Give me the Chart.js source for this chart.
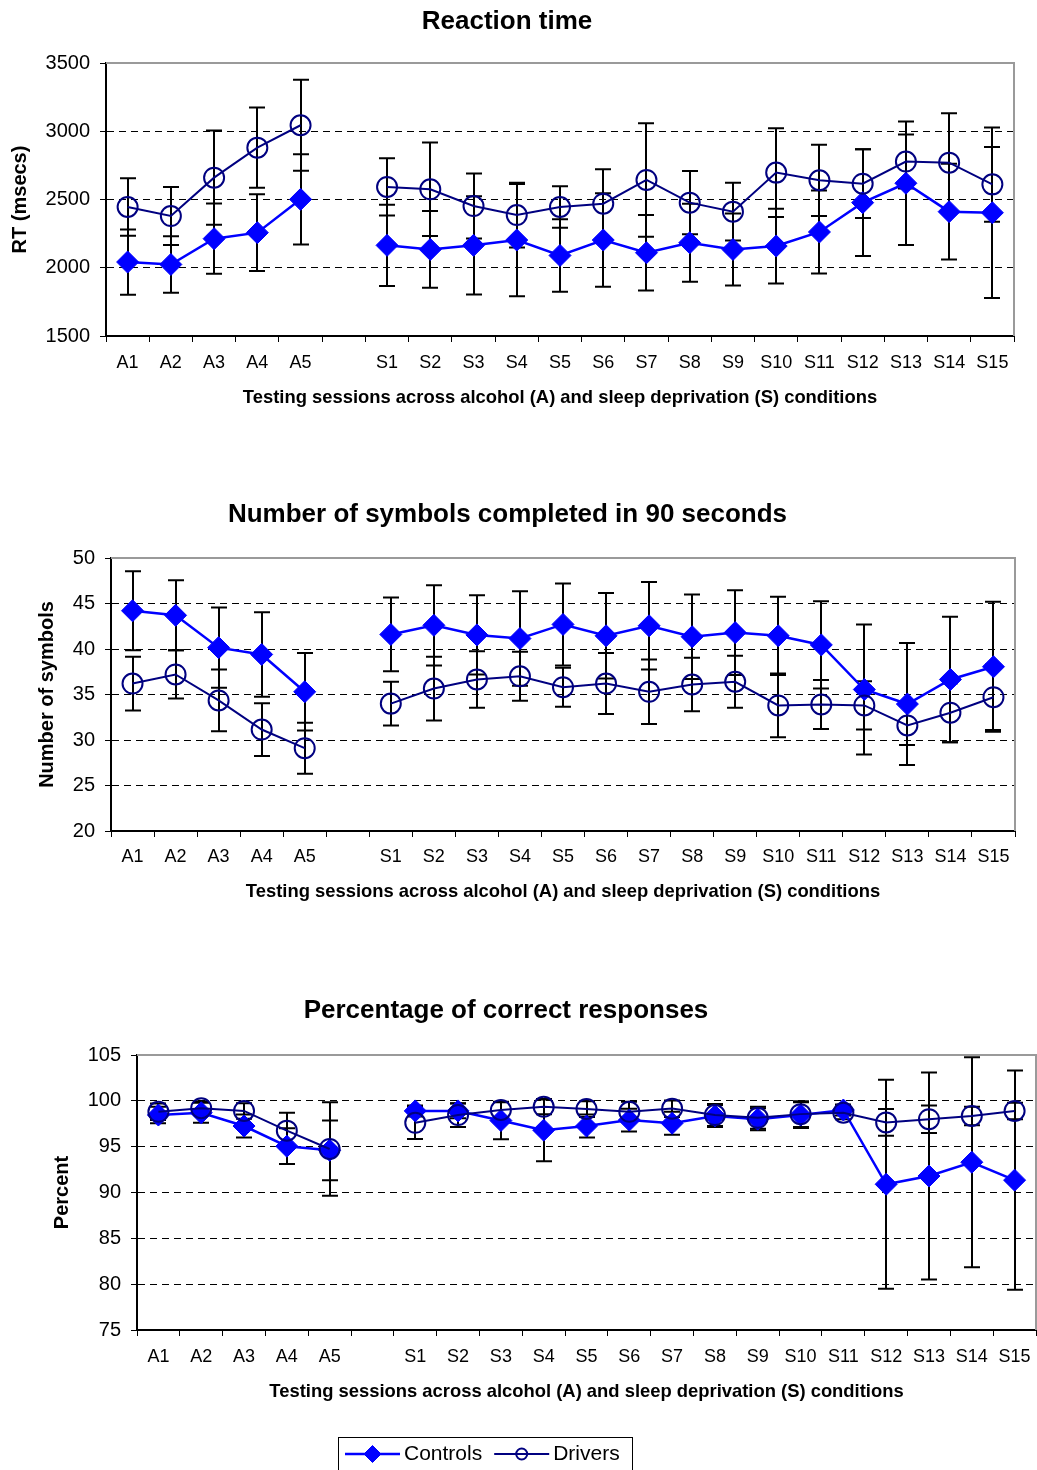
<!DOCTYPE html>
<html>
<head>
<meta charset="utf-8">
<title>Reaction time, symbols completed and correct responses</title>
<script src="https://cdn.jsdelivr.net/npm/chart.js@4/dist/chart.umd.min.js"></script>
<style>
  html, body { margin: 0; padding: 0; background: #fff; overflow: hidden; width: 1037px; height: 1470px; position: relative; }
  canvas { position: absolute; display: block; }
  #rt  { left: 0;     top: 0; }
  #sym { left: 0;     top: 470px; }
  #pct { left: -24px; top: 960px; }
</style>
</head>
<body>
<canvas id="rt" width="1037" height="420"></canvas>
<canvas id="sym" width="1037" height="450"></canvas>
<canvas id="pct" width="1061" height="510"></canvas>

<script>
// Testing sessions: five alcohol sessions, an empty slot, fifteen sleep-deprivation sessions
const sessions = ['A1', 'A2', 'A3', 'A4', 'A5', '',
  'S1', 'S2', 'S3', 'S4', 'S5', 'S6', 'S7', 'S8', 'S9', 'S10', 'S11', 'S12', 'S13', 'S14', 'S15'];

// Reaction time (msecs): means and standard deviations
const rtControls   = [2042, 2024, 2213, 2257, 2501, null, 2164, 2134, 2164, 2203, 2090, 2203, 2110, 2183, 2134, 2159, 2262, 2477, 2619, 2411, 2403];
const rtControlsSD = [239, 207, 257, 281, 330, null, 298, 281, 360, 411, 266, 342, 276, 286, 264, 274, 304, 391, 453, 350, 625];
const rtDrivers    = [2445, 2379, 2660, 2880, 3044, null, 2592, 2575, 2452, 2386, 2445, 2469, 2643, 2477, 2411, 2697, 2641, 2616, 2778, 2770, 2611];
const rtDriversSD  = [210, 213, 345, 294, 333, null, 210, 342, 238, 237, 152, 252, 416, 232, 212, 325, 261, 252, 198, 362, 274];

// Number of symbols completed in 90 seconds
const symControls   = [44.2, 43.7, 40.15, 39.4, 35.3, null, 41.6, 42.6, 41.55, 41.15, 42.7, 41.45, 42.55, 41.35, 41.8, 41.45, 40.45, 35.55, 33.95, 36.65, 38.05];
const symControlsSD = [4.35, 3.85, 4.4, 4.65, 4.25, null, 4.05, 4.4, 4.35, 5.2, 4.5, 4.7, 4.8, 4.65, 4.65, 4.3, 4.8, 7.15, 6.7, 6.9, 7.15];
const symDrivers    = [36.2, 37.2, 34.35, 31.15, 29.1, null, 34.0, 35.65, 36.65, 37.0, 35.8, 36.2, 35.3, 36.1, 36.4, 33.8, 33.9, 33.8, 31.6, 33.0, 34.7];
const symDriversSD  = [2.95, 2.65, 3.4, 2.9, 2.8, null, 2.4, 3.5, 3.1, 2.7, 2.15, 3.35, 3.55, 2.95, 2.85, 3.5, 2.7, 2.65, 2.15, 3.25, 3.6];

// Percentage of correct responses
const pctControls   = [98.45, 98.7, 97.25, 95.05, 94.6, null, 98.9, 98.9, 97.85, 96.8, 97.25, 97.9, 97.55, 98.35, 98.0, 98.45, 99.0, 90.9, 91.8, 93.3, 91.35];
const pctControlsSD = [0.9, 1.1, 1.25, 1.95, 3.25, null, 0.6, 0.8, 2.05, 3.4, 1.25, 1.25, 1.25, 1.2, 1.2, 1.4, 0.6, 11.4, 11.3, 11.45, 11.95];
const pctDrivers    = [98.8, 99.2, 98.9, 96.75, 94.75, null, 97.6, 98.45, 99.0, 99.35, 99.1, 98.8, 99.15, 98.45, 98.15, 98.55, 98.7, 97.65, 98.0, 98.35, 98.9];
const pctDriversSD  = [0.9, 0.75, 0.85, 1.95, 5.1, null, 1.75, 1.3, 0.85, 0.8, 0.85, 1.1, 0.9, 1.2, 1.2, 1.4, 0.7, 1.45, 1.5, 1.0, 0.9];

const X_TITLE = 'Testing sessions across alcohol (A) and sleep deprivation (S) conditions';
const FONT = "'Liberation Sans', Arial, sans-serif";
const CONTROL_COLOR = '#0000ff';
const DRIVER_COLOR = '#000080';

Chart.defaults.font.family = FONT;
Chart.defaults.color = '#000';

// Grey border along the top and right of the plot area
const plotFrame = {
  id: 'plotFrame',
  beforeDatasetsDraw(chart, args, opts) {
    const { ctx, chartArea: a } = chart;
    ctx.save();
    ctx.strokeStyle = opts.color;
    ctx.lineWidth = opts.width;
    ctx.beginPath();
    ctx.moveTo(a.left, a.top);
    ctx.lineTo(a.right, a.top);
    ctx.lineTo(a.right, a.bottom);
    ctx.stroke();
    ctx.restore();
  }
};

// Mean ± SD whiskers with caps, drawn underneath the markers
const errorBars = {
  id: 'errorBars',
  beforeDatasetsDraw(chart, args, opts) {
    const ctx = chart.ctx;
    const yScale = chart.scales.y;
    const half = opts.capWidth / 2;
    ctx.save();
    ctx.strokeStyle = opts.color;
    ctx.lineWidth = opts.width;
    chart.data.datasets.forEach((ds, di) => {
      if (!ds.errors) return;
      const meta = chart.getDatasetMeta(di);
      meta.data.forEach((pt, i) => {
        const v = ds.data[i], e = ds.errors[i];
        if (v == null || e == null) return;
        const x = Math.round(pt.x);
        const yHi = yScale.getPixelForValue(v + e);
        const yLo = yScale.getPixelForValue(v - e);
        ctx.beginPath();
        ctx.moveTo(x, yHi); ctx.lineTo(x, yLo);
        ctx.moveTo(x - half, yHi); ctx.lineTo(x + half, yHi);
        ctx.moveTo(x - half, yLo); ctx.lineTo(x + half, yLo);
        ctx.stroke();
      });
    });
    ctx.restore();
  }
};

// Boxed key with a line-and-marker sample for each series
const seriesKey = {
  id: 'seriesKey',
  afterDraw(chart, args, o) {
    const ctx = chart.ctx;
    ctx.save();
    ctx.strokeStyle = '#000';
    ctx.lineWidth = 1;
    ctx.strokeRect(o.left + 0.5, o.top + 0.5, o.width, o.height);
    ctx.font = o.fontSize + 'px ' + FONT;
    ctx.textBaseline = 'middle';
    ctx.textAlign = 'left';
    const cy = o.top + o.rowOffset;
    let x = o.left + 7;
    chart.data.datasets.forEach((ds, i) => {
      const r = o.markerRadius[i];
      ctx.strokeStyle = ds.borderColor;
      ctx.lineWidth = ds.borderWidth;
      ctx.beginPath();
      ctx.moveTo(x, cy); ctx.lineTo(x + o.sampleLength, cy);
      ctx.stroke();
      const mx = x + o.sampleLength / 2;
      ctx.fillStyle = ds.pointBackgroundColor;
      ctx.strokeStyle = ds.pointBorderColor;
      ctx.lineWidth = ds.pointBorderWidth;
      if (Chart.helpers && Chart.helpers.drawPoint) {
        Chart.helpers.drawPoint(ctx, { pointStyle: ds.pointStyle, radius: r, rotation: 0, borderWidth: ds.pointBorderWidth }, mx, cy);
      } else {
        ctx.beginPath();
        if (ds.pointStyle === 'circle') ctx.arc(mx, cy, r, 0, Math.PI * 2);
        else { ctx.moveTo(mx, cy - r); ctx.lineTo(mx + r, cy); ctx.lineTo(mx, cy + r); ctx.lineTo(mx - r, cy); ctx.closePath(); }
        ctx.fill(); ctx.stroke();
      }
      x += o.sampleLength + 4;
      ctx.fillStyle = '#000';
      ctx.fillText(ds.label, x, cy);
      x += ctx.measureText(ds.label).width + 12;
    });
    ctx.restore();
  }
};

function makeChart(id, o) {
  const gridColor = c => (c.tick && (c.tick.value === o.min || c.tick.value === o.max)) ? 'rgba(0,0,0,0)' : '#000';
  return new Chart(document.getElementById(id), {
    type: 'line',
    data: {
      labels: sessions,
      datasets: [
        {
          label: 'Controls', data: o.controls, errors: o.controlsSD,
          borderColor: CONTROL_COLOR, backgroundColor: CONTROL_COLOR, borderWidth: 2.5,
          pointStyle: 'rectRot', pointRadius: 11, pointBackgroundColor: CONTROL_COLOR,
          pointBorderColor: CONTROL_COLOR, pointBorderWidth: 1,
          tension: 0, spanGaps: false, clip: false, order: 1
        },
        {
          label: 'Drivers', data: o.drivers, errors: o.driversSD,
          borderColor: DRIVER_COLOR, backgroundColor: DRIVER_COLOR, borderWidth: 2,
          pointStyle: 'circle', pointRadius: 10, pointBackgroundColor: 'rgba(0,0,0,0)',
          pointBorderColor: DRIVER_COLOR, pointBorderWidth: 2,
          tension: 0, spanGaps: false, clip: false, order: 0
        }
      ]
    },
    options: {
      responsive: false,
      animation: false,
      devicePixelRatio: 1,
      events: [],
      layout: { padding: o.pad, autoPadding: false },
      plugins: {
        legend: { display: false },
        tooltip: { enabled: false },
        title: {
          display: true, text: o.title, color: '#000',
          font: { size: 26, weight: 'bold' }, padding: o.titlePad
        },
        plotFrame: { color: '#9a9a9a', width: 2 },
        errorBars: { color: '#000', width: 2, capWidth: 16 },
        seriesKey: o.key || {}
      },
      scales: {
        x: {
          type: 'category',
          offset: true,
          grid: { display: true, offset: true, drawOnChartArea: false, drawTicks: true, tickLength: 6, tickColor: '#000', tickWidth: 1 },
          border: { display: true, color: '#000', width: 2 },
          ticks: { autoSkip: false, maxRotation: 0, minRotation: 0, padding: o.xTickPad, font: { size: 18 }, color: '#000' },
          title: { display: true, text: X_TITLE, color: '#000', font: { size: 18.4, weight: 'bold' }, padding: { top: 0, bottom: o.xTitlePad } },
          afterFit: s => { s.height = o.xHeight; s.paddingLeft = 0; s.paddingRight = 0; }
        },
        y: {
          min: o.min, max: o.max,
          ticks: { stepSize: o.step, padding: 10, font: { size: 20 }, color: '#000', callback: v => String(v) },
          grid: { color: gridColor, lineWidth: 1, drawTicks: true, tickLength: 6, tickColor: '#000', tickWidth: 1 },
          border: { display: true, color: '#000', width: 2, dash: [7, 5] },
          title: { display: true, text: o.yTitle, color: '#000', font: { size: 20, weight: 'bold' }, padding: { top: o.yTitlePad, bottom: 0 } },
          afterFit: s => { s.width = o.yWidth; }
        }
      }
    },
    plugins: [plotFrame, errorBars].concat(o.key ? [seriesKey] : [])
  });
}

makeChart('rt', {
  title: 'Reaction time', yTitle: 'RT (msecs)',
  controls: rtControls, controlsSD: rtControlsSD, drivers: rtDrivers, driversSD: rtDriversSD,
  min: 1500, max: 3500, step: 500,
  pad: { left: 0, right: 23, top: 0, bottom: 0 },
  titlePad: { top: 6, bottom: 25.8 },
  yWidth: 106, yTitlePad: 8,
  xHeight: 84, xTickPad: 10, xTitlePad: 10.6
});

makeChart('sym', {
  title: 'Number of symbols completed in 90 seconds', yTitle: 'Number of symbols',
  controls: symControls, controlsSD: symControlsSD, drivers: symDrivers, driversSD: symDriversSD,
  min: 20, max: 50, step: 5,
  pad: { left: 0, right: 22, top: 0, bottom: 0 },
  titlePad: { top: 29.4, bottom: 27.4 },
  yWidth: 111, yTitlePad: 35,
  xHeight: 89, xTickPad: 9, xTitlePad: 16.6
});

makeChart('pct', {
  title: 'Percentage of correct responses', yTitle: 'Percent',
  controls: pctControls, controlsSD: pctControlsSD, drivers: pctDrivers, driversSD: pctDriversSD,
  min: 75, max: 105, step: 5,
  pad: { left: 0, right: 1, top: 0, bottom: 65 },
  titlePad: { top: 35.4, bottom: 28.4 },
  yWidth: 161, yTitlePad: 74,
  xHeight: 75, xTickPad: 10, xTitlePad: 1.6,
  key: { left: 362, top: 477, width: 294, height: 45, rowOffset: 17, fontSize: 21, sampleLength: 55, markerRadius: [8.5, 5.5] }
});
</script>
</body>
</html>
